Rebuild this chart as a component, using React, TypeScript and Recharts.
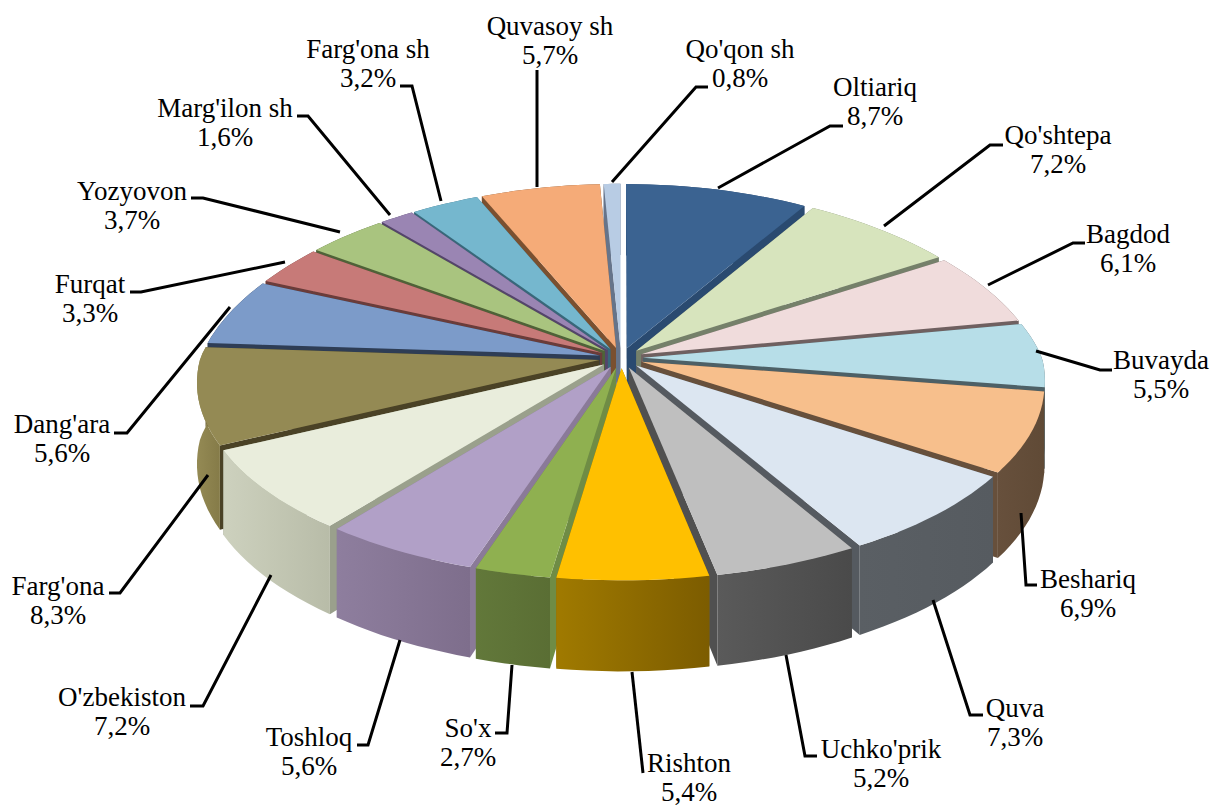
import { Pie, PieChart } from 'recharts'

const names = ['Oltiariq', "Qo'shtepa", 'Bagdod', 'Buvayda', 'Beshariq', 'Quva', "Uchko'prik", 'Rishton', "So'x", 'Toshloq', "O'zbekiston", "Farg'ona", "Dang'ara", 'Furqat', 'Yozyovon', "Marg'ilon sh", "Farg'ona sh", 'Quvasoy sh', "Qo'qon sh"]
const values = [8.7, 7.2, 6.1, 5.5, 6.9, 7.3, 5.2, 5.4, 2.7, 5.6, 7.2, 8.3, 5.6, 3.3, 3.7, 1.6, 3.2, 5.7, 0.8]

const topColors = ['#3B6391', '#D7E4BD', '#F0DCDC', '#B7DEE8', '#F7BF8C', '#DCE6F1', '#BFBFBF', '#FFC000', '#8FB050', '#B1A0C7', '#E9EDDC', '#948A54', '#7C9BC9', '#C77A78', '#A9C47F', '#9A85B3', '#75B7CE', '#F5AB78', '#B8CCE4']
const faceColors = ['#2A4A70', '#75806A', '#6F6060', '#4D6066', '#67503C', '#555A60', '#505050', '#8A6A00', '#6F8C45', '#8A7A98', '#9AA08C', '#4A4226', '#2E3D55', '#6A3C3A', '#4F6238', '#54456A', '#38687A', '#7A5030', '#66748A']
const wallLight = ['#2A4A70', '#75806A', '#6F6060', '#4D6066', '#67503C', '#5A5F64', '#5A5A5A', '#A07A00', '#62783A', '#8E7E9E', '#CDD1BE', '#948A54', '#2E3D55', '#6A3C3A', '#4F6238', '#54456A', '#38687A', '#7A5030', '#66748A']
const wallDark = ['#2A4A70', '#75806A', '#6F6060', '#4D6066', '#604A36', '#565B60', '#4A4A4A', '#7C5C00', '#5A6E34', '#7E6E8C', '#B8BCA8', '#857B48', '#2E3D55', '#6A3C3A', '#4F6238', '#54456A', '#38687A', '#7A5030', '#66748A']

// label placement: text centre, then the leader as slice end, elbow, label end
const labelCentres = [[875, 88], [1058, 136], [1128, 235], [1161, 361], [1088, 580], [1015, 709], [881, 750], [689, 764], [468, 729], [309, 738], [122, 698], [58, 587], [62, 425], [90, 285], [132, 192], [225, 109], [368, 50], [550, 27], [740, 50]]
const leaders = [
  [[718, 188], [830, 126], [843, 126]],
  [[884, 226], [990, 145], [1003, 145]],
  [[988, 285], [1073, 243], [1085, 243]],
  [[1036, 351], [1100, 370], [1112, 370]],
  [[1021, 513], [1026, 585], [1037, 585]],
  [[933, 600], [970, 715], [983, 715]],
  [[786, 655], [805, 756], [817, 756]],
  [[632, 672], [643, 773]],
  [[512, 665], [507, 733], [495, 733]],
  [[400, 640], [368, 745], [357, 745]],
  [[271, 575], [203, 706], [190, 706]],
  [[208, 475], [120, 593], [109, 593]],
  [[230, 307], [127, 433], [114, 433]],
  [[285, 262], [141, 292], [130, 292]],
  [[340, 232], [203, 198], [191, 198]],
  [[390, 215], [308, 116], [297, 116]],
  [[441, 201], [412, 86], [400, 86]],
  [[537, 187], [537, 70]],
  [[612, 182], [696, 87], [708, 87]],
]

const data = names.map((name, i) => ({ name, value: values[i] }))
const reversed = [...data].reverse()

const CX = 621
const CY = 358
const RADIUS = 399
const EXPLODE = 22
const DEPTH = 80
const SQUASH = 0.464
const PERSPECTIVE = 0.115
const BACK_NARROWING = 0.18
const RAD = Math.PI / 180

// plane point to screen, y grows toward the viewer
function project(px: number, py: number, drop = 0) {
  const d = 1 - (PERSPECTIVE * py) / RADIUS
  const dx = py < 0 ? 1 - (BACK_NARROWING * py) / RADIUS : d
  return [CX + px / dx, CY + (SQUASH * py + drop) / d]
}

function sliceGeometry(p: any) {
  const a0 = Math.min(p.startAngle, p.endAngle)
  const a1 = Math.max(p.startAngle, p.endAngle)
  const mid = (a0 + a1) / 2
  const ox = EXPLODE * Math.cos(mid * RAD)
  const oy = -EXPLODE * Math.sin(mid * RAD)
  const rim = (drop: number) => {
    const pts = []
    const steps = Math.max(4, Math.ceil((a1 - a0) / 2))
    for (let s = 0; s <= steps; s++) {
      const a = (a0 + ((a1 - a0) * s) / steps) * RAD
      pts.push(project(ox + p.outerRadius * Math.cos(a), oy - p.outerRadius * Math.sin(a), drop))
    }
    return pts
  }
  return { mid, rim, apex: (drop: number) => project(ox, oy, drop) }
}

const toPath = (pts: number[][]) => 'M' + pts.map((q) => q[0].toFixed(1) + ' ' + q[1].toFixed(1)).join('L') + 'Z'

function Walls({ side, ...p }: any) {
  const i = names.indexOf(p.name)
  const { mid, rim, apex } = sliceGeometry(p)
  const onRight = Math.cos(mid * RAD) > 0
  if ((side === 'right') !== onRight) return null
  const top = rim(0)
  const bottom = rim(DEPTH)
  const faceA = [apex(0), top[0], bottom[0], apex(DEPTH)]
  const faceB = [apex(0), top[top.length - 1], bottom[bottom.length - 1], apex(DEPTH)]
  const gradId = 'wall-' + i
  return (
    <g>
      <defs>
        <linearGradient id={gradId} x1="0" x2="1" y1="0" y2="0">
          <stop offset="0%" stopColor={wallLight[i]} />
          <stop offset="100%" stopColor={wallDark[i]} />
        </linearGradient>
      </defs>
      <path d={toPath(faceA)} fill={faceColors[i]} />
      <path d={toPath(faceB)} fill={faceColors[i]} />
      <path d={toPath([...top, ...bottom.reverse()])} fill={`url(#${gradId})`} />
    </g>
  )
}

function Top(p: any) {
  const i = names.indexOf(p.name)
  const { rim, apex } = sliceGeometry(p)
  return <path d={toPath([apex(0), ...rim(0)])} fill={topColors[i]} />
}

function renderLabel(p: any) {
  const i = names.indexOf(p.name)
  const [x, y] = labelCentres[i]
  return (
    <g key={p.name}>
      <polyline points={leaders[i].map((q) => q.join(',')).join(' ')} fill="none" stroke="#000" strokeWidth={3} />
      <text x={x} y={y} textAnchor="middle" fontFamily="'Liberation Serif'" fontSize={27} fill="#000">
        <tspan x={x} y={y + 8}>{p.name}</tspan>
        <tspan x={x} y={y + 37}>{String(p.value).replace('.', ',')}%</tspan>
      </text>
    </g>
  )
}

export default function App() {
  return (
    <div style={{ position: 'absolute', left: 0, top: 0, width: 1211, height: 807, background: '#fff' }}>
      <PieChart width={1211} height={807} margin={{ top: 0, right: 0, bottom: 0, left: 0 }}>
        <Pie data={reversed} dataKey="value" nameKey="name" cx={CX} cy={CY} innerRadius={0} outerRadius={RADIUS} startAngle={-270} endAngle={90} stroke="none" isAnimationActive={false} shape={(p: any) => <Walls {...p} side="left" />} />
        <Pie data={data} dataKey="value" nameKey="name" cx={CX} cy={CY} innerRadius={0} outerRadius={RADIUS} startAngle={90} endAngle={-270} stroke="none" isAnimationActive={false} shape={(p: any) => <Walls {...p} side="right" />} />
        <Pie data={data} dataKey="value" nameKey="name" cx={CX} cy={CY} innerRadius={0} outerRadius={RADIUS} startAngle={90} endAngle={-270} stroke="none" isAnimationActive={false} shape={Top} label={renderLabel} labelLine={false} />
      </PieChart>
    </div>
  )
}
